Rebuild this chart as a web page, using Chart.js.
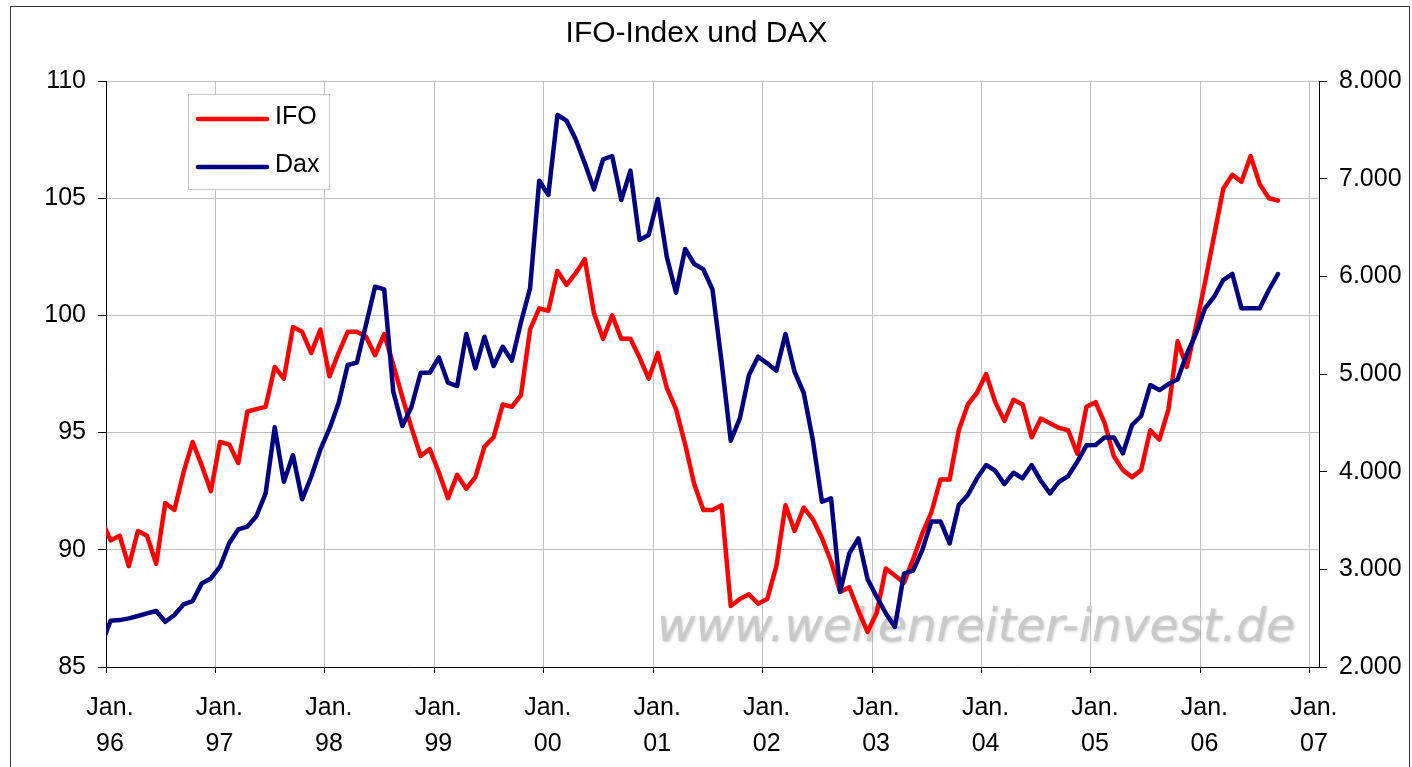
<!DOCTYPE html>
<html>
<head>
<meta charset="utf-8">
<title>IFO-Index und DAX</title>
<script src="https://cdn.jsdelivr.net/npm/chart.js@4"></script>
<style>
  html, body { margin: 0; padding: 0; background: #fff; }
  canvas { display: block; }
</style>
</head>
<body>
<canvas id="chart" width="1412" height="767"></canvas>
<script>
// monthly values, first entry is Dec 1995 (only its segment up to the axis shows)
const ifo = [
  91.3,
  90.4, 90.6, 89.3, 90.8, 90.6, 89.4, 92.0, 91.7, 93.3, 94.6, 93.6, 92.5,
  94.6, 94.5, 93.7, 95.9, 96.0, 96.1, 97.8, 97.3, 99.5, 99.3, 98.4, 99.4,
  97.4, 98.4, 99.3, 99.3, 99.1, 98.3, 99.2, 97.9, 96.5, 95.2, 94.0, 94.3,
  93.3, 92.2, 93.2, 92.6, 93.1, 94.4, 94.8, 96.2, 96.1, 96.6, 99.4, 100.3,
  100.2, 101.9, 101.3, 101.8, 102.4, 100.1, 99.0, 100.0, 99.0, 99.0, 98.2, 97.3,
  98.4, 96.9, 96.0, 94.5, 92.8, 91.7, 91.7, 91.9, 87.6, 87.9, 88.1, 87.7,
  87.9, 89.3, 91.9, 90.8, 91.8, 91.3, 90.5, 89.5, 88.2, 88.4, 87.4, 86.5,
  87.3, 89.2, 88.9, 88.6, 89.6, 90.7, 91.6, 93.0, 93.0, 95.1, 96.2, 96.7,
  97.5, 96.3, 95.5, 96.4, 96.2, 94.8, 95.6, 95.4, 95.2, 95.1, 94.1, 96.1,
  96.3, 95.4, 94.0, 93.4, 93.1, 93.4, 95.1, 94.7, 96.0, 98.9, 97.8, 99.5,
  101.4, 103.4, 105.4, 106.0, 105.7, 106.8, 105.6, 105.0, 104.9
];
const dax = [
  2230,
  2474, 2480, 2498, 2522, 2549, 2573, 2463, 2532, 2641, 2675, 2856, 2907,
  3027, 3266, 3409, 3437, 3546, 3778, 4454, 3897, 4170, 3717, 3948, 4225,
  4440, 4700, 5092, 5116, 5501, 5894, 5867, 4819, 4467, 4665, 5013, 5013,
  5170, 4911, 4877, 5409, 5058, 5382, 5082, 5279, 5136, 5530, 5880, 6979,
  6833, 7652, 7594, 7403, 7157, 6891, 7198, 7232, 6781, 7082, 6372, 6423,
  6792, 6195, 5832, 6280, 6126, 6072, 5865, 5120, 4317, 4546, 4989, 5177,
  5109, 5034, 5409, 5023, 4808, 4324, 3692, 3727, 2771, 3163, 3317, 2900,
  2720, 2550, 2410, 2955, 2986, 3197, 3490, 3490, 3266, 3658, 3761, 3932,
  4068, 4010, 3873, 3989, 3932, 4068, 3907, 3778, 3897, 3955, 4102, 4270,
  4273, 4351, 4351, 4188, 4478, 4570, 4887, 4836, 4897, 4945, 5204, 5409,
  5672, 5791, 5962, 6024, 5672, 5672, 5672, 5860, 6024
];
const yearLabels = ["96", "97", "98", "99", "00", "01", "02", "03", "04", "05", "06", "07"];
const ifoTicks = [85, 90, 95, 100, 105, 110];
const daxTicks = [2000, 3000, 4000, 5000, 6000, 7000, 8000];

const FONT = "'Liberation Sans', Arial, sans-serif";

// x unit = one month, Jan 96 band is [0, 1]; points sit in the middle of their month
const toPoints = (arr) => arr.map((v, i) => ({ x: i - 0.5, y: v }));

const thousands = (v) => String(v).replace(/\B(?=(\d{3})+(?!\d))/g, ".");

const frame = {
  id: "frame",
  beforeDraw(chart) {
    const c = chart.ctx;
    c.save();
    c.fillStyle = "#fff";
    c.fillRect(0, 0, chart.width, chart.height);
    c.strokeStyle = "#333";
    c.lineWidth = 1;
    c.strokeRect(10.5, 6.5, 1399, 800);
    c.restore();
  },
  // the title sits a bit left of the canvas middle
  afterLayout(chart) {
    if (chart.titleBlock) {
      chart.titleBlock.right = chart.width - 19;
      chart.titleBlock.top += 2;
      chart.titleBlock.bottom += 2;
    }
  },
};

const watermark = {
  id: "watermark",
  beforeDatasetsDraw(chart) {
    const c = chart.ctx;
    const text = "www.wellenreiter-invest.de";
    c.save();
    c.font = "oblique 46px 'DejaVu Sans'";
    const w = c.measureText(text).width;
    const size = 46 * 638 / w;
    c.font = "oblique " + size.toFixed(1) + "px 'DejaVu Sans'";
    c.textBaseline = "alphabetic";
    c.shadowColor = "rgba(0,0,0,0.25)";
    c.shadowBlur = 3;
    c.shadowOffsetX = 1;
    c.shadowOffsetY = 1;
    c.fillStyle = "rgba(200,200,200,0.9)";
    c.fillText(text, 657, 641);
    c.restore();
  },
};

const boxLegend = {
  id: "boxLegend",
  afterDraw(chart) {
    const c = chart.ctx;
    const items = [0, 1].map((i) => chart.data.datasets[i]);
    c.save();
    c.fillStyle = "#fff";
    c.fillRect(189, 95, 140, 94);
    c.strokeStyle = "#c8c8c8";
    c.lineWidth = 1;
    c.strokeRect(188.5, 94.5, 141, 95);
    c.font = "25px " + FONT;
    c.textBaseline = "middle";
    c.textAlign = "left";
    items.forEach((ds, k) => {
      const y = 119 + k * 48;
      c.strokeStyle = ds.borderColor;
      c.lineWidth = 4.5;
      c.lineCap = "round";
      c.beginPath();
      c.moveTo(198, y);
      c.lineTo(267, y);
      c.stroke();
      c.fillStyle = "#000";
      c.fillText(ds.label, 275, y - 2);
    });
    c.restore();
  },
};

new Chart(document.getElementById("chart"), {
  type: "line",
  data: {
    datasets: [
      {
        label: "IFO",
        data: toPoints(ifo),
        borderColor: "#ff0000",
        backgroundColor: "#ff0000",
        borderWidth: 4.5,
        yAxisID: "y",
        order: 1,
      },
      {
        label: "Dax",
        data: toPoints(dax),
        borderColor: "#000080",
        backgroundColor: "#000080",
        borderWidth: 4.5,
        yAxisID: "y1",
        order: 0,
      },
    ],
  },
  options: {
    responsive: false,
    animation: false,
    devicePixelRatio: 1,
    layout: { padding: 0 },
    elements: {
      point: { radius: 0, hoverRadius: 0 },
      line: { tension: 0, borderJoinStyle: "round", borderCapStyle: "round" },
    },
    plugins: {
      legend: { display: false },
      tooltip: { enabled: false },
      title: {
        display: true,
        text: "IFO-Index und DAX",
        color: "#000",
        font: { family: FONT, size: 30, weight: "normal", lineHeight: 1.2 },
        padding: { top: 14, bottom: 31 },
      },
    },
    scales: {
      x: {
        type: "linear",
        min: 0,
        max: yearLabels.length * 12 - 11,
        afterFit(s) { s.height = 100; },
        grid: { color: "#c0c0c0", tickColor: "#000", tickLength: 6 },
        border: { color: "#000", width: 1 },
        ticks: {
          stepSize: 12,
          includeBounds: false,
          autoSkip: false,
          maxRotation: 0,
          labelOffset: 4,
          padding: 17,
          color: "#000",
          font: { family: FONT, size: 25, lineHeight: 1.44 },
          callback: (v) => ["Jan.", yearLabels[v / 12]],
        },
      },
      y: {
        position: "left",
        min: ifoTicks[0],
        max: ifoTicks[ifoTicks.length - 1],
        afterFit(s) { s.width = 106; },
        grid: { color: "#c0c0c0", tickColor: "#000", tickLength: 8 },
        border: { color: "#000", width: 1 },
        ticks: {
          stepSize: 5,
          padding: 12,
          color: "#000",
          font: { family: FONT, size: 25 },
        },
      },
      y1: {
        position: "right",
        min: daxTicks[0],
        max: daxTicks[daxTicks.length - 1],
        afterFit(s) { s.width = 93; },
        grid: { drawOnChartArea: false, tickColor: "#000", tickLength: 8 },
        border: { color: "#000", width: 1 },
        ticks: {
          stepSize: 1000,
          padding: 12,
          color: "#000",
          font: { family: FONT, size: 25 },
          callback: (v) => thousands(v),
        },
      },
    },
  },
  plugins: [frame, watermark, boxLegend],
});
</script>
</body>
</html>
